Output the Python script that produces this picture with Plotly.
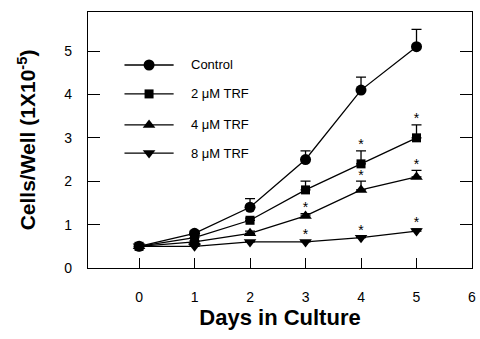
import plotly.graph_objects as go

days = [0, 1, 2, 3, 4, 5]
series_names = ["Control", "2 \u03bcM TRF", "4 \u03bcM TRF", "8 \u03bcM TRF"]
control = [0.5, 0.8, 1.4, 2.5, 4.1, 5.1]
trf2 = [0.5, 0.7, 1.1, 1.8, 2.4, 3.0]
trf4 = [0.5, 0.6, 0.8, 1.2, 1.8, 2.1]
trf8 = [0.5, 0.5, 0.6, 0.6, 0.7, 0.85]
control_err = [0.0, 0.05, 0.2, 0.2, 0.3, 0.4]
trf2_err = [0.0, 0.05, 0.05, 0.2, 0.3, 0.3]
trf4_err = [0.0, 0.03, 0.05, 0.05, 0.2, 0.15]
trf8_err = [0.0, 0.03, 0.03, 0.03, 0.03, 0.05]
# significance asterisks (1 = marked)
control_sig = [0, 0, 0, 0, 0, 0]
trf2_sig = [0, 0, 0, 0, 1, 1]
trf4_sig = [0, 0, 0, 1, 1, 1]
trf8_sig = [0, 0, 0, 1, 1, 1]
x_ticks = [0, 1, 2, 3, 4, 5, 6]
y_ticks = [0, 1, 2, 3, 4, 5]

values = [control, trf2, trf4, trf8]
errs = [control_err, trf2_err, trf4_err, trf8_err]
sigs = [control_sig, trf2_sig, trf4_sig, trf8_sig]
symbols = ["circle", "square", "triangle-up", "triangle-down"]
sizes = [11, 9, 11, 11]
FONT = "Liberation Sans, Arial, sans-serif"

fig = go.Figure()
for name, v, e, sym, sz in zip(series_names, values, errs, symbols, sizes):
    fig.add_trace(go.Scatter(
        x=days, y=v, name=name, mode="lines+markers", showlegend=False,
        line=dict(color="black", width=1.3),
        marker=dict(symbol=sym, size=sz, color="black"),
        error_y=dict(type="data", array=e, arrayminus=[0] * len(e),
                     symmetric=False, color="black", thickness=1.3, width=5),
    ))

for v, e, s in zip(values, errs, sigs):
    xs = [d for d, f in zip(days, s) if f]
    if not xs:
        continue
    ys = [a + b + 0.12 for a, b, f in zip(v, e, s) if f]
    fig.add_trace(go.Scatter(
        x=xs, y=ys, mode="text", text=["*"] * len(xs), showlegend=False,
        textfont=dict(size=14, color="#000000", family=FONT),
        textposition="middle center", hoverinfo="skip",
    ))

# manual legend (layout positions in an overlay axis spanning the plot area)
leg_y = [0.793, 0.680, 0.559, 0.449]
leg_x0, leg_xm, leg_x1, leg_xt = 0.095, 0.159, 0.223, 0.262
for name, sym, sz, ly in zip(series_names, symbols, sizes, leg_y):
    fig.add_trace(go.Scatter(
        x=[leg_x0, leg_x1], y=[ly, ly], xaxis="x2", yaxis="y2",
        mode="lines", showlegend=False, hoverinfo="skip",
        line=dict(color="black", width=1.3),
    ))
    fig.add_trace(go.Scatter(
        x=[leg_xm], y=[ly], xaxis="x2", yaxis="y2",
        mode="markers", showlegend=False, hoverinfo="skip",
        marker=dict(symbol=sym, size=sz, color="black"),
    ))
    fig.add_annotation(x=leg_xt, y=ly, xref="x2", yref="y2", text=name,
                       showarrow=False, xanchor="left", yanchor="middle",
                       font=dict(size=13, family=FONT, color="black"))

fig.update_layout(
    width=480, height=339,
    margin=dict(l=88, r=8, t=12, b=71),
    paper_bgcolor="white", plot_bgcolor="white",
    font=dict(family=FONT, color="black"),
    showlegend=False,
    xaxis2=dict(overlaying="x", range=[0, 1], visible=False),
    yaxis2=dict(overlaying="y", range=[0, 1], visible=False),
)
fig.layout.xaxis.update(
    range=[-0.92, 6.0], tickvals=x_ticks, ticks="inside", ticklen=10,
    tickwidth=1.2, tickcolor="black", showline=True, linecolor="black",
    linewidth=1.3, mirror=True, showgrid=False, zeroline=False,
    tickfont=dict(size=14), ticklabelstandoff=16, automargin=False,
    ticklabeloverflow="allow",
    title=dict(text="<b>Days in Culture</b>", font=dict(size=22), standoff=4),
)
fig.layout.yaxis.update(
    range=[0, 5.9], tickvals=y_ticks, ticks="inside", ticklen=12,
    tickwidth=1.2, tickcolor="black", showline=True, linecolor="black",
    linewidth=1.3, mirror="ticks", showgrid=False, zeroline=False,
    tickfont=dict(size=14), ticklabelstandoff=12, automargin=False,
    title=dict(text="<b>Cells/Well (1X10<sup>-5</sup>)</b>", font=dict(size=21), standoff=22),
)

fig.write_html("out.html", config={"displayModeBar": False},
               post_script="document.body.style.margin='0px';document.body.style.overflow='hidden';")
